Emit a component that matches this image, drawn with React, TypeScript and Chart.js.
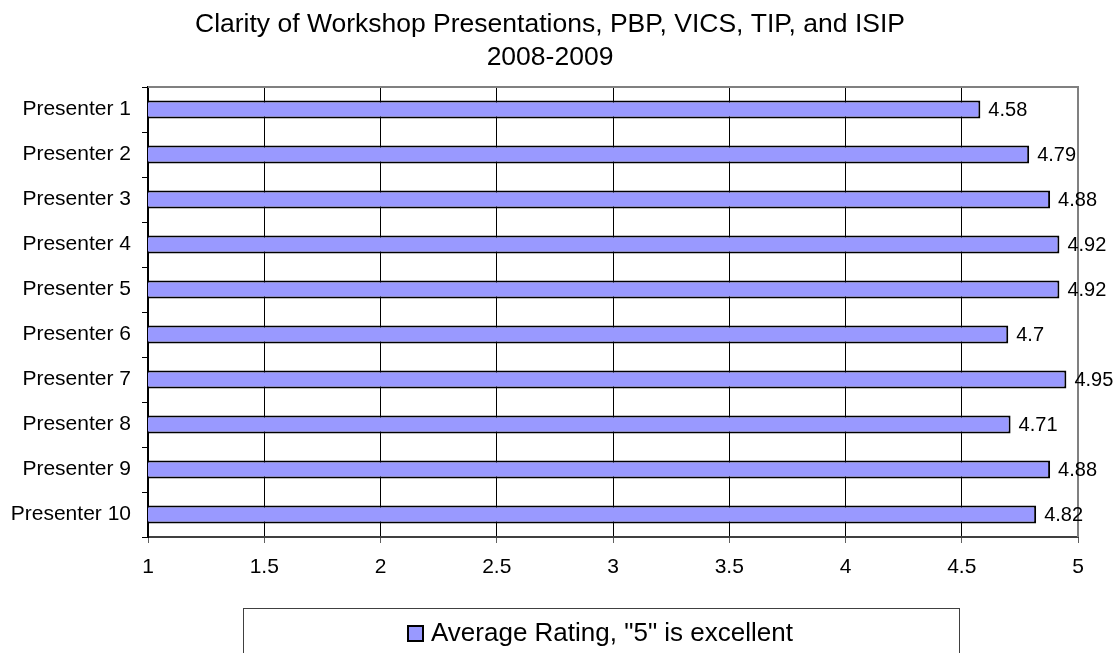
import React, { useEffect, useRef } from 'react';
import { Chart, registerables } from 'chart.js';

Chart.register(...registerables);

const categories = [
  'Presenter 1',
  'Presenter 2',
  'Presenter 3',
  'Presenter 4',
  'Presenter 5',
  'Presenter 6',
  'Presenter 7',
  'Presenter 8',
  'Presenter 9',
  'Presenter 10',
];
const ratings = [4.58, 4.79, 4.88, 4.92, 4.92, 4.7, 4.95, 4.71, 4.88, 4.82];
const seriesLabel = 'Average Rating, "5" is excellent';
const titleLines = ['Clarity of Workshop Presentations, PBP, VICS, TIP, and ISIP', '2008-2009'];
const xMin = 1;
const xMax = 5;
const xStep = 0.5;

const FONT = '"Liberation Sans", Arial, sans-serif';
const BAR_COLOR = '#9999FF';

const framePlugin = {
  id: 'frame',
  beforeDatasetsDraw(chart: any) {
    const { ctx, chartArea } = chart;
    ctx.save();
    ctx.strokeStyle = '#808080';
    ctx.lineWidth = 2;
    ctx.beginPath();
    ctx.moveTo(chartArea.left, chartArea.top);
    ctx.lineTo(chartArea.right, chartArea.top);
    ctx.lineTo(chartArea.right, chartArea.bottom);
    ctx.stroke();
    ctx.restore();
  },
};

const labelsPlugin = {
  id: 'barLabels',
  afterDatasetsDraw(chart: any) {
    const { ctx } = chart;
    const meta = chart.getDatasetMeta(0);
    ctx.save();
    ctx.font = `20px ${FONT}`;
    ctx.fillStyle = '#000';
    ctx.textAlign = 'left';
    ctx.textBaseline = 'middle';
    meta.data.forEach((bar: any, i: number) => {
      const v = chart.data.datasets[0].data[i];
      ctx.fillText(String(v), bar.x + 8, bar.y + 1);
    });
    ctx.restore();
  },
};

const decorPlugin = {
  id: 'decor',
  afterDraw(chart: any) {
    const { ctx } = chart;
    ctx.save();
    // title
    ctx.font = `26.5px ${FONT}`;
    ctx.fillStyle = '#000';
    ctx.textAlign = 'center';
    ctx.textBaseline = 'alphabetic';
    ctx.fillText(titleLines[0], 550, 32);
    ctx.fillText(titleLines[1], 550, 65);
    // legend box
    ctx.strokeStyle = '#404040';
    ctx.lineWidth = 1;
    ctx.strokeRect(243.5, 608.5, 716, 60);
    ctx.fillStyle = BAR_COLOR;
    ctx.fillRect(408, 626, 15, 15);
    ctx.strokeStyle = '#000';
    ctx.lineWidth = 2;
    ctx.strokeRect(408, 626, 15, 15);
    ctx.fillStyle = '#000';
    ctx.font = `26px ${FONT}`;
    ctx.textAlign = 'left';
    ctx.textBaseline = 'middle';
    ctx.fillText(seriesLabel, 431, 634);
    ctx.restore();
  },
};

export default function App() {
  const canvasRef = useRef<HTMLCanvasElement | null>(null);

  useEffect(() => {
    document.body.style.margin = '0';
    const canvas = canvasRef.current;
    if (!canvas) return;
    const chart = new Chart(canvas, {
      type: 'bar',
      data: {
        labels: categories,
        datasets: [
          {
            label: seriesLabel,
            data: ratings,
            backgroundColor: BAR_COLOR,
            borderColor: '#000',
            borderWidth: 2,
            borderSkipped: false,
            barPercentage: 0.4,
            categoryPercentage: 1,
          },
        ],
      },
      options: {
        indexAxis: 'y',
        animation: false,
        responsive: false,
        devicePixelRatio: 1,
        layout: { padding: { top: 87, right: 38, left: 0, bottom: 0 } },
        plugins: {
          legend: { display: false },
          title: { display: false },
          tooltip: { enabled: false },
        },
        scales: {
          x: {
            type: 'linear',
            min: xMin,
            max: xMax,
            ticks: {
              stepSize: xStep,
              color: '#000',
              font: { family: FONT, size: 21 },
              padding: 12,
              callback: (v: any) => String(v),
            },
            grid: {
              color: (c: any) => (c.tick && (c.tick.value === xMax || c.tick.value === xMin) ? 'rgba(0,0,0,0)' : '#000'),
              lineWidth: 1,
              tickLength: 6,
              tickColor: '#606060',
            },
            border: { display: true, color: '#404040', width: 2 },
            afterFit: (s: any) => {
              s.height = 116;
            },
          },
          y: {
            type: 'category',
            ticks: {
              color: '#000',
              font: { family: FONT, size: 21 },
              padding: 11,
            },
            grid: {
              drawOnChartArea: false,
              offset: true,
              tickLength: 6,
              color: '#000',
              tickColor: '#000',
              lineWidth: 1,
            },
            border: { display: true, color: '#000', width: 2 },
            afterFit: (s: any) => {
              s.width = 148;
            },
          },
        },
      },
      plugins: [framePlugin, labelsPlugin, decorPlugin],
    });
    return () => chart.destroy();
  }, []);

  return (
    <div style={{ width: 1116, height: 653, background: '#fff' }}>
      <canvas ref={canvasRef} width={1116} height={653} />
    </div>
  );
}
